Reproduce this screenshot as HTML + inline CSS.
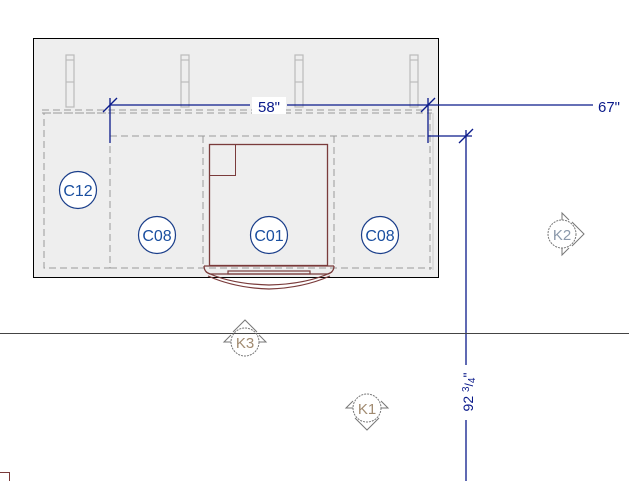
<!DOCTYPE html>
<html><head><style>html,body{margin:0;padding:0;background:#fff;overflow:hidden}svg{display:block}</style></head>
<body>
<svg width="629" height="481" viewBox="0 0 629 481" xmlns="http://www.w3.org/2000/svg" font-family="Liberation Sans, sans-serif">
<rect x="33.5" y="38.5" width="405" height="239" fill="#eeeeee" stroke="#000" stroke-width="1"/>
<!-- posts -->
<g fill="none" stroke="#bbb" stroke-width="1.2">
<rect x="66" y="55" width="8" height="52"/><line x1="66" y1="82" x2="74" y2="82"/><line x1="66" y1="60" x2="74" y2="60"/>
<rect x="181" y="55" width="8" height="52"/><line x1="181" y1="82" x2="189" y2="82"/><line x1="181" y1="60" x2="189" y2="60"/>
<rect x="295" y="55" width="8" height="52"/><line x1="295" y1="82" x2="303" y2="82"/><line x1="295" y1="60" x2="303" y2="60"/>
<rect x="410" y="55" width="8" height="52"/><line x1="410" y1="82" x2="418" y2="82"/><line x1="410" y1="60" x2="418" y2="60"/>
</g>
<!-- dashed cabinet lines -->
<g fill="none" stroke="#999" stroke-width="1" stroke-dasharray="7,4">
<line x1="42" y1="110" x2="432" y2="110"/>
<line x1="42" y1="113" x2="432" y2="113"/>
<rect x="44" y="113" width="66" height="155"/>
<line x1="110" y1="136" x2="432" y2="136"/>
<line x1="110" y1="268" x2="432" y2="268"/>
<line x1="203" y1="136" x2="203" y2="268"/>
<line x1="334" y1="136" x2="334" y2="268"/>
<line x1="430" y1="113" x2="430" y2="270"/>
</g>
<line x1="433" y1="113" x2="433" y2="270" stroke="#ccc"/>
<!-- C01 box -->
<rect x="209.5" y="144.5" width="118" height="121" fill="none" stroke="#7a3b3b" stroke-width="1.3"/>
<rect x="209.5" y="144.5" width="26" height="31" fill="none" stroke="#7a3b3b" stroke-width="1"/>
<!-- door -->
<g fill="none" stroke="#7a3b3b" stroke-width="1.2">
<line x1="204" y1="266" x2="334" y2="266"/>
<path d="M204 266 Q204 272 210 274 L328 274 Q334 272 334 266"/>
<rect x="228" y="271" width="82" height="3"/>
<path d="M206 272 Q230 284 269 285 Q308 284 332 272"/>
<path d="M208 276 Q235 288 269 289 Q303 288 330 276"/>
</g>
<!-- cabinet tags -->
<g fill="#fff" stroke="#1a3e8a" stroke-width="1.2">
<circle cx="78" cy="190" r="18.5"/><circle cx="157" cy="235" r="18.5"/><circle cx="269" cy="235" r="18.5"/><circle cx="380" cy="235" r="18.5"/>
</g>
<g fill="#1a4fa0" font-size="16" text-anchor="middle">
<text x="78" y="196">C12</text><text x="157" y="241">C08</text><text x="269" y="241">C01</text><text x="380" y="241">C08</text>
</g>
<!-- dimensions -->
<g stroke="#0a1a8a" stroke-width="1.3" fill="none">
<line x1="110" y1="105" x2="250" y2="105"/><line x1="287" y1="105" x2="428" y2="105"/>
<line x1="428" y1="105" x2="593" y2="105"/>
<line x1="110" y1="98" x2="110" y2="143"/><line x1="103" y1="112" x2="117" y2="98"/>
<line x1="428" y1="98" x2="428" y2="143"/><line x1="421" y1="112" x2="435" y2="98"/>
<line x1="428" y1="136" x2="472" y2="136"/>
<line x1="466" y1="130" x2="466" y2="365"/><line x1="466" y1="420" x2="466" y2="481"/>
<line x1="459" y1="143" x2="473" y2="129"/>
</g>
<rect x="252" y="97" width="34" height="17" fill="#fff"/>
<text x="269" y="112" fill="#0a1a8a" font-size="15" text-anchor="middle">58"</text>
<text x="598" y="112" fill="#0a1a8a" font-size="15">67"</text>
<text transform="translate(473,392) rotate(-90)" fill="#0a1a8a" font-size="14" text-anchor="middle">92 <tspan font-size="10" dy="-4">3</tspan><tspan font-size="12" dy="4">/</tspan><tspan font-size="10" dy="2">4</tspan><tspan dy="-2">"</tspan></text>
<!-- wall line -->
<line x1="0" y1="333.5" x2="629" y2="333.5" stroke="#444" stroke-width="1"/>
<!-- markers -->
<g fill="none" stroke="#777" stroke-width="1">
<circle cx="245" cy="342" r="14" stroke-dasharray="2,1"/><path d="M233 332 L245 320 L257 332"/><path d="M231 342 L224 342 L231 335"/><path d="M259 342 L266 342 L259 335"/>
<circle cx="367" cy="408" r="14" stroke-dasharray="2,1"/><path d="M355 418 L367 430 L379 418"/><path d="M353 408 L346 408 L353 401"/><path d="M381 408 L388 408 L381 401"/>
<circle cx="562" cy="234" r="14" stroke-dasharray="2,1"/><path d="M572 222 L584 234 L572 246"/><path d="M562 220 L562 213 L569 220"/><path d="M562 248 L562 255 L569 248"/>
</g>
<g fill="#a08a70" font-size="15" text-anchor="middle">
<text x="245" y="348">K3</text><text x="367" y="414">K1</text><text x="562" y="240" fill="#8a98aa">K2</text>
</g>
<path d="M0 472.5 H9.5 V481" fill="none" stroke="#7a3b3b" stroke-width="1"/>
</svg>
</body></html>
